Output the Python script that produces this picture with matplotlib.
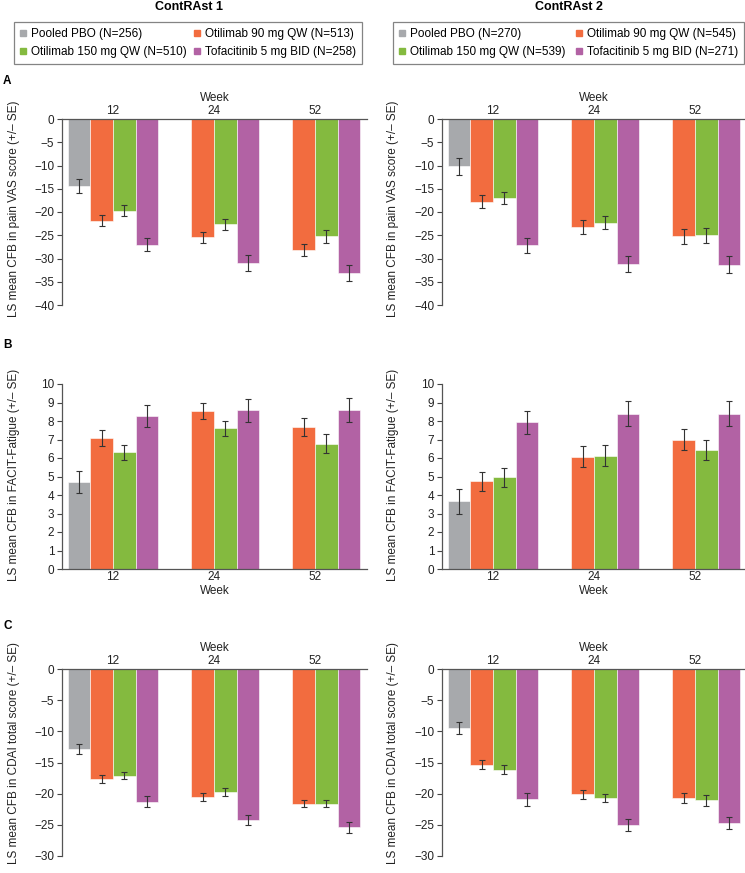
import matplotlib
matplotlib.use("Agg")
import matplotlib.pyplot as plt
import numpy as np
from matplotlib.lines import Line2D

plt.rcParams['font.family'] = ['Liberation Sans', 'DejaVu Sans']

weeks = ["12", "24", "52"]
series = ["Pooled PBO", "Otilimab 90 mg QW", "Otilimab 150 mg QW", "Tofacitinib 5 mg BID"]
colors = ["#A7A9AC", "#F26C3F", "#84BA3F", "#B262A4"]
n_study1 = [256, 513, 510, 258]
n_study2 = [270, 545, 539, 271]
titles = ["ContRAst 1", "ContRAst 2"]

nan = np.nan
# Panel A: pain VAS
vas1 = [[-14.4, nan, nan], [-21.9, -25.4, -28.2], [-19.7, -22.6, -25.2], [-27.0, -31.0, -33.2]]
vas1_se = [[1.6, nan, nan], [1.15, 1.2, 1.3], [1.2, 1.2, 1.4], [1.4, 1.75, 1.7]]
vas2 = [[-10.2, nan, nan], [-17.8, -23.2, -25.2], [-17.0, -22.3, -25.0], [-27.2, -31.2, -31.3]]
vas2_se = [[1.8, nan, nan], [1.4, 1.5, 1.6], [1.3, 1.45, 1.6], [1.7, 1.8, 1.85]]
# Panel B: FACIT-Fatigue
fac1 = [[4.71, nan, nan], [7.1, 8.54, 7.68], [6.31, 7.61, 6.78], [8.29, 8.58, 8.58]]
fac1_se = [[0.59, nan, nan], [0.43, 0.45, 0.49], [0.4, 0.4, 0.5], [0.6, 0.61, 0.66]]
fac2 = [[3.67, nan, nan], [4.73, 6.08, 7.0], [4.95, 6.13, 6.44], [7.93, 8.4, 8.4]]
fac2_se = [[0.67, nan, nan], [0.52, 0.57, 0.56], [0.51, 0.57, 0.53], [0.62, 0.68, 0.68]]
# Panel C: CDAI
cdai1 = [[-12.9, nan, nan], [-17.7, -20.6, -21.6], [-17.1, -19.7, -21.6], [-21.3, -24.3, -25.4]]
cdai1_se = [[0.8, nan, nan], [0.65, 0.65, 0.6], [0.6, 0.65, 0.6], [0.9, 0.8, 0.85]]
cdai2 = [[-9.4, nan, nan], [-15.35, -20.1, -20.7], [-16.15, -20.7, -21.05], [-20.9, -25.0, -24.7]]
cdai2_se = [[0.95, nan, nan], [0.7, 0.75, 0.8], [0.7, 0.7, 0.85], [1.0, 0.95, 1.0]]

W, H = 745, 873
fig = plt.figure(figsize=(W / 100, H / 100), dpi=100)

def fx(px):
    return px / W

def fy(py):
    return 1 - py / H

fs = 8.5
cols_px = [(62, 367), (442, 745)]
rows_px = [(119, 305), (384, 569), (669, 856)]
ylabels = ["LS mean CFB in pain VAS score (+/\u2013 SE)",
           "LS mean CFB in FACIT-Fatigue (+/\u2013 SE)",
           "LS mean CFB in CDAI total score (+/\u2013 SE)"]
ylims = [(-40, 0), (0, 10), (-30, 0)]
yticks = [np.arange(-40, 1, 5), np.arange(0, 11, 1), np.arange(-30, 1, 5)]
ylab_y = [0.52, 0.51, 0.55]
data = [[(vas1, vas1_se), (vas2, vas2_se)],
        [(fac1, fac1_se), (fac2, fac2_se)],
        [(cdai1, cdai1_se), (cdai2, cdai2_se)]]

bw = 0.224
offs = (np.arange(4) - 1.5) * bw
x = np.arange(len(weeks))

for r in range(3):
    for c in range(2):
        x0, x1 = cols_px[c]
        ytop, ybot = rows_px[r]
        ax = fig.add_axes([fx(x0), fy(ybot), fx(x1 - x0), (ybot - ytop) / H])
        vals, ses = data[r][c]
        for i in range(4):
            ax.bar(x + offs[i], vals[i], width=bw, color=colors[i],
                   edgecolor='white', linewidth=0.4, zorder=2)
            ax.errorbar(x + offs[i], vals[i], yerr=ses[i], fmt='none',
                        ecolor='#333333', elinewidth=0.8, capsize=2.2,
                        capthick=0.8, zorder=3)
        ax.set_xlim(-0.505, 2.515 if c == 0 else 2.495)
        ax.set_ylim(*ylims[r])
        ax.set_yticks(yticks[r])
        ax.set_yticklabels([str(v).replace('-', '\u2212') for v in yticks[r]], fontsize=fs, color='#222222')
        ax.set_xticks(x)
        ax.set_xticklabels(weeks, fontsize=fs, color='#222222')
        ax.tick_params(axis='y', length=3.5, width=0.8, pad=2, colors='#444444', labelcolor='#222222')
        ax.tick_params(axis='x', length=0, pad=1.5)
        ax.spines['right'].set_visible(False)
        for s in ax.spines.values():
            s.set_color('#555555')
            s.set_linewidth(0.9)
        if r == 1:
            ax.spines['top'].set_visible(False)
            ax.set_xlabel("Week", fontsize=fs, labelpad=1.5, color='#222222')
        else:
            ax.spines['bottom'].set_visible(False)
            ax.xaxis.tick_top()
            ax.xaxis.set_label_position('top')
            ax.set_xlabel("Week", fontsize=fs, labelpad=3, color='#222222')
        ax.set_ylabel(ylabels[r], fontsize=fs, color='#222222')
        ax.yaxis.set_label_coords((20 + c * 379 - x0) / (x1 - x0), ylab_y[r])

# panel letters
for letter, py in zip("ABC", [81, 345, 626]):
    fig.text(fx(3), fy(py), letter, fontsize=fs, fontweight='bold', va='center', ha='left')

# titles and legends
legend_boxes = [(14, 23, 362, 63), (393, 23, 744, 63)]
title_x = [189, 569]
for c in range(2):
    fig.text(fx(title_x[c]), fy(6.5), titles[c], fontsize=fs + 0.5, fontweight='bold',
             ha='center', va='center')
    ns = n_study1 if c == 0 else n_study2
    labels = [f"{s} (N={n})" for s, n in zip(series, ns)]
    handles = [Line2D([], [], marker='s', linestyle='none', markersize=4.5,
                      color=colors[i]) for i in range(4)]
    order = [0, 2, 1, 3]
    bx0, by0, bx1, by1 = legend_boxes[c]
    leg = fig.legend([handles[i] for i in order], [labels[i] for i in order],
                     ncol=2, loc='center', fontsize=fs,
                     bbox_to_anchor=(fx(bx0), fy(by1), fx(bx1 - bx0), (by1 - by0) / H),
                     mode='expand', frameon=True, fancybox=False,
                     handlelength=0.5, handletextpad=0.4, columnspacing=0.4,
                     borderpad=0.5, labelspacing=0.45, borderaxespad=0)
    leg.get_frame().set_edgecolor('#666666')
    leg.get_frame().set_linewidth(0.9)

fig.savefig("out.png", dpi=100)
